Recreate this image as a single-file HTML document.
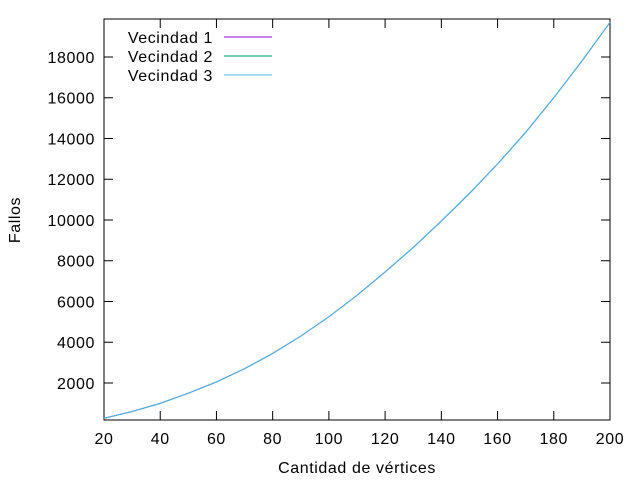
<!DOCTYPE html>
<html><head><meta charset="utf-8"><style>
body{margin:0;background:#fff}
svg{display:block;font-family:"Liberation Sans","DejaVu Sans",sans-serif;font-size:16px;letter-spacing:0.6px}
</style></head><body>
<svg id="chart" width="640" height="480" viewBox="0 0 640 480">
<g id="axes"></g>
<g id="series"></g>
<g id="legend"></g>
<text x="357" y="473" text-anchor="middle">Cantidad de vértices</text>
<text transform="translate(20,220) rotate(-90)" text-anchor="middle">Fallos</text>
</svg>
<script>
const categories=[20,30,40,50,60,70,80,90,100,110,120,130,140,150,160,170,180,190,200];
const vecindad1=[270,600,1000,1500,2050,2700,3450,4300,5250,6300,7450,8650,9950,11300,12750,14300,16000,17800,19700];
const vecindad2=[270,600,1000,1500,2050,2700,3450,4300,5250,6300,7450,8650,9950,11300,12750,14300,16000,17800,19700];
const vecindad3=[270,600,1000,1500,2050,2700,3450,4300,5250,6300,7450,8650,9950,11300,12750,14300,16000,17800,19700];
const xTicks=[20,40,60,80,100,120,140,160,180,200];
const yTicks=[2000,4000,6000,8000,10000,12000,14000,16000,18000];
const seriesNames=["Vecindad 1","Vecindad 2","Vecindad 3"];
const L=104,R=610,T=19,B=420,xmin=20,xmax=200,ymin=184,ymax=19865;
const sx=v=>L+(v-xmin)/(xmax-xmin)*(R-L);
const sy=v=>B-(v-ymin)/(ymax-ymin)*(B-T);
const NS="http://www.w3.org/2000/svg";
function mk(tag,attrs,parent){const e=document.createElementNS(NS,tag);for(const k in attrs)e.setAttribute(k,attrs[k]);parent.appendChild(e);return e;}
const ax=document.getElementById('axes');
const frame=mk('rect',{x:L,y:T,width:R-L,height:B-T,fill:'none',stroke:'#000','stroke-width':1},ax);


xTicks.forEach(v=>{const x=sx(v);
 mk('line',{x1:x,y1:B,x2:x,y2:B-9,stroke:'#000'},ax);
 mk('line',{x1:x,y1:T,x2:x,y2:T+9,stroke:'#000'},ax);
 const t=mk('text',{x:x,y:444,'text-anchor':'middle'},ax);t.textContent=v;
 
 
});
yTicks.forEach(v=>{const y=sy(v);
 mk('line',{x1:L,y1:y,x2:L+9,y2:y,stroke:'#000'},ax);
 mk('line',{x1:R,y1:y,x2:R-9,y2:y,stroke:'#000'},ax);
 const t=mk('text',{x:95,y:y+6,'text-anchor':'end'},ax);t.textContent=v;
 
 
});
const colors=['#9400d3','#009e73','#56b4e9'];
const data=[vecindad1,vecindad2,vecindad3];
const sg=document.getElementById('series');
const lg=document.getElementById('legend');
data.forEach((arr,i)=>{
 const d=arr.map((v,j)=>(j?'L':'M')+sx(categories[j]).toFixed(2)+','+sy(v).toFixed(2)).join(' ');
 const p=mk('path',{d:d,fill:'none',stroke:colors[i],'stroke-width':1},sg);
 
 
 const y=37+i*19;
 const t=mk('text',{x:213,y:y+6,'text-anchor':'end'},lg);t.textContent=seriesNames[i];
 
 
 const ln=mk('line',{x1:224,y1:y,x2:272,y2:y,stroke:colors[i],'stroke-width':1},lg);
 
 
});
</script>
</body></html>
